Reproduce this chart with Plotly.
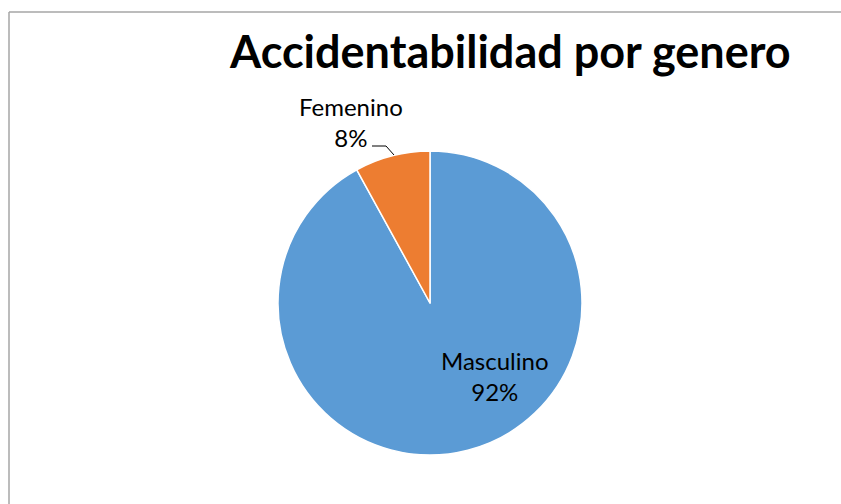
import plotly.graph_objects as go

W, H = 841, 504

# Data
categories = ["Masculino", "Femenino"]
percentages = [92, 8]
colors = ["#5B9BD5", "#ED7D31"]
title_text = "Accidentabilidad por genero"


def px(x):
    return x / W


def py(y):
    return 1 - y / H


fig = go.Figure()
fig.add_trace(go.Pie(
    labels=categories,
    values=percentages,
    sort=False,
    direction="clockwise",
    rotation=0,
    textinfo="none",
    hoverinfo="none",
    marker=dict(colors=colors, line=dict(color="white", width=1.5)),
    domain=dict(x=[px(278), px(582)], y=[py(455), py(151)]),
    showlegend=False,
))

font_family = "Lato, 'Open Sans', sans-serif"

annotations = [
    dict(text=f"<b>{title_text}</b>", x=px(510), y=py(51), xref="paper", yref="paper",
         xanchor="center", yanchor="middle", showarrow=False,
         font=dict(family=font_family, size=45, color="black")),
    dict(text=f"{categories[0]}<br>{percentages[0]}%", x=px(495), y=py(376), xref="paper", yref="paper",
         xanchor="center", yanchor="middle", showarrow=False,
         font=dict(family=font_family, size=24, color="black")),
    dict(text=f"{categories[1]}<br>{percentages[1]}%", x=px(351), y=py(122), xref="paper", yref="paper",
         xanchor="center", yanchor="middle", showarrow=False,
         font=dict(family=font_family, size=24, color="black")),
]

shapes = [
    # chart border (top and left)
    dict(type="line", xref="paper", yref="paper", x0=px(9), y0=py(12), x1=1.0, y1=py(12),
         line=dict(color="#A6A6A6", width=1.5)),
    dict(type="line", xref="paper", yref="paper", x0=px(9), y0=py(12), x1=px(9), y1=0.0,
         line=dict(color="#A6A6A6", width=1.5)),
    # leader line for Femenino
    dict(type="path", xref="paper", yref="paper",
         path=f"M {px(372)},{py(146)} L {px(386)},{py(146)} L {px(394)},{py(155)}",
         line=dict(color="black", width=1)),
]

fig.update_layout(
    width=W, height=H,
    margin=dict(l=0, r=0, t=0, b=0),
    paper_bgcolor="white",
    plot_bgcolor="white",
    annotations=annotations,
    shapes=shapes,
)

fig.write_html(
    "out.html",
    config={"displayModeBar": False, "staticPlot": True},
    post_script=(
        "document.documentElement.style.overflow='hidden';"
        "document.body.style.margin='0';"
        "document.body.style.overflow='hidden';"
    ),
)
